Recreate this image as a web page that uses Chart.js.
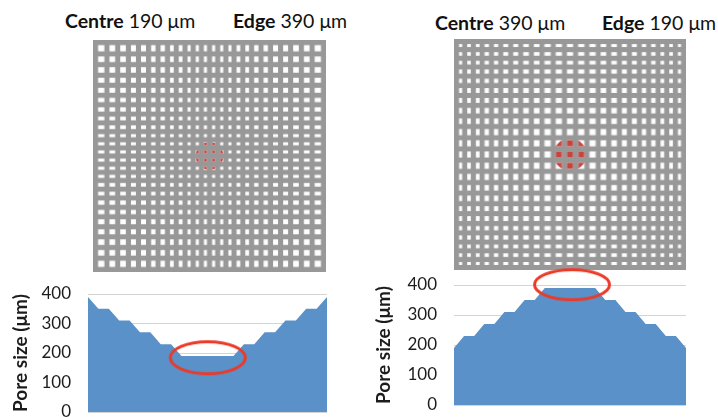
<!DOCTYPE html>
<html>
<head>
<meta charset="utf-8">
<script src="https://cdn.jsdelivr.net/npm/chart.js@4"></script>
<style>
  html, body { margin: 0; padding: 0; background: #fff; }
  body { position: relative; width: 718px; height: 417px; overflow: hidden; font-family: Lato, sans-serif; color: #111; }
  .cap { position: absolute; font-size: 19.5px; white-space: nowrap; line-height: 22px; }
  .cap b { font-weight: 700; }
  canvas { position: absolute; }
  .grid { filter: blur(0.45px); }
</style>
</head>
<body>
<div class="cap" style="left:65px;top:10px"><b>Centre</b> 190 μm</div>
<div class="cap" style="left:233px;top:10px"><b>Edge</b> 390 μm</div>
<div class="cap" style="left:435px;top:12px"><b>Centre</b> 390 μm</div>
<div class="cap" style="left:602px;top:12px"><b>Edge</b> 190 μm</div>

<canvas id="gridLeft" class="grid" style="left:93px;top:40px;width:233px;height:232px"></canvas>
<canvas id="gridRight" class="grid" style="left:453.5px;top:39px;width:232.5px;height:231px"></canvas>
<canvas id="areaLeft" style="left:0;top:255px;width:345px;height:162px"></canvas>
<canvas id="areaRight" style="left:360px;top:255px;width:345px;height:162px"></canvas>

<script>
// pore size (um) along the scaffold, edge to edge
const leftPoreSizes = [390, 350, 350, 310, 310, 270, 270, 230, 230, 190, 190, 190, 190, 190, 190, 230, 230, 270, 270, 310, 310, 350, 350, 390];
const rightPoreSizes = [190, 230, 230, 270, 270, 310, 310, 350, 350, 390, 390, 390, 390, 390, 390, 350, 350, 310, 310, 270, 270, 230, 230, 190];
// the right scaffold has one pore less, so a pore sits on its centre
const rightGridSizes = [190, 230, 230, 270, 270, 310, 310, 350, 350, 390, 390, 390, 390, 390, 350, 350, 310, 310, 270, 270, 230, 230, 190];
const strutSize = 320;
const leftSpotRadius = 870;
const rightSpotRadius = 1030;

const poreSizeTicks = [0, 100, 200, 300, 400];
const leftHighlight = [11.53, 184];
const rightHighlight = [11.7, 401];

const GREY = '#989898', BLUE = '#5b91c9', RED = '#c4443e', RING = '#ea3a28', GRID = '#d4d4d4', TEXT = '#1c1c1c';

Chart.defaults.animation = false;
Chart.defaults.responsive = false;
Chart.defaults.font.family = 'Lato, sans-serif';

function sizeCanvas(id, w, h) {
  const c = document.getElementById(id);
  c.width = w; c.height = h;
  return c;
}

// centre of each pore along one axis, from the sizes and the strut
function poreCentres(sizes) {
  let pos = strutSize;
  return sizes.map(s => { const c = pos + s / 2; pos += s + strutSize; return c; });
}

const poreCache = {};
function poreImage(w, h, color) {
  const key = [w.toFixed(2), h.toFixed(2), color].join();
  if (poreCache[key]) return poreCache[key];
  const c = document.createElement('canvas');
  c.width = Math.ceil(w) + 2; c.height = Math.ceil(h) + 2;
  const g = c.getContext('2d');
  g.fillStyle = color;
  g.fillRect((c.width - w) / 2, (c.height - h) / 2, w, h);
  poreCache[key] = c;
  return c;
}

function drawGrid(id, boxW, boxH, sizes, spotRadius) {
  const centres = poreCentres(sizes);
  const total = sizes.reduce((a, b) => a + b + strutSize, strutSize);
  const points = [];
  centres.forEach((y, r) => centres.forEach((x, c) => points.push({ x, y, w: sizes[c], h: sizes[r] })));

  const style = color => ctx => {
    const kx = ctx.chart.width / total, ky = ctx.chart.height / total;
    return poreImage(ctx.raw.w * kx, ctx.raw.h * ky, color);
  };

  new Chart(sizeCanvas(id, boxW, boxH), {
    type: 'scatter',
    data: {
      datasets: [
        { data: points, order: 2, pointStyle: style('#ffffff'), clip: false },
        { data: points, order: 1, pointStyle: style(RED), clip: false }
      ]
    },
    options: {
      plugins: { legend: { display: false }, tooltip: { enabled: false } },
      layout: { padding: 0, autoPadding: false },
      scales: {
        x: { type: 'linear', min: 0, max: total, display: false },
        y: { type: 'linear', min: 0, max: total, display: false }
      }
    },
    plugins: [{
      id: 'plate',
      beforeDatasetsDraw(chart) {
        const a = chart.chartArea;
        chart.ctx.fillStyle = GREY;
        chart.ctx.fillRect(a.left, a.top, a.right - a.left, a.bottom - a.top);
      },
      // red spot: only the pores inside the circle show the red set
      beforeDatasetDraw(chart, args) {
        if (args.index !== 1) return;
        const g = chart.ctx, sx = chart.scales.x, sy = chart.scales.y;
        g.save();
        g.beginPath();
        g.arc(sx.getPixelForValue(total / 2), sy.getPixelForValue(total / 2),
          spotRadius * chart.width / total, 0, Math.PI * 2);
        g.clip();
      },
      afterDatasetDraw(chart, args) {
        if (args.index === 1) chart.ctx.restore();
      }
    }]
  });
}

function ringImage(w, h) {
  const c = document.createElement('canvas');
  c.width = w + 6; c.height = h + 6;
  const g = c.getContext('2d');
  g.strokeStyle = RING;
  g.lineWidth = 3;
  g.beginPath();
  g.ellipse(c.width / 2, c.height / 2, w / 2 - 1.5, h / 2 - 1.5, 0, 0, Math.PI * 2);
  g.stroke();
  return c;
}

function drawArea(id, sizes, highlight, opts) {
  new Chart(sizeCanvas(id, 345, 162), {
    type: 'line',
    data: {
      datasets: [
        {
          data: sizes.map((v, i) => ({ x: i, y: v })),
          order: 2,
          borderWidth: 0,
          backgroundColor: BLUE,
          fill: 'origin',
          pointRadius: 0,
          tension: 0
        },
        {
          type: 'scatter',
          data: [{ x: highlight[0], y: highlight[1] }],
          order: 1,
          clip: false,
          pointRadius: 20,
          pointStyle: ringImage(opts.ringW, opts.ringH)
        }
      ]
    },
    options: {
      plugins: { legend: { display: false }, tooltip: { enabled: false } },
      layout: { autoPadding: false, padding: { top: opts.top, bottom: opts.bottom, right: 345 - opts.left - opts.plotW, left: 0 } },
      scales: {
        x: { type: 'linear', min: 0, max: sizes.length - 1, display: false },
        y: {
          min: poreSizeTicks[0],
          max: poreSizeTicks[poreSizeTicks.length - 1],
          afterFit: s => { s.width = opts.left; s.paddingTop = 0; s.paddingBottom = 0; },
          afterBuildTicks: s => { s.ticks = poreSizeTicks.map(value => ({ value })); },
          grid: { color: GRID, lineWidth: 1, drawTicks: false },
          border: { display: false },
          ticks: { color: TEXT, font: { size: 17 }, padding: opts.tickPad },
          title: {
            display: true,
            text: 'Pore size (μm)',
            color: TEXT,
            font: { size: 19, weight: '700' },
            padding: { top: opts.titleTop, bottom: 0 }
          }
        }
      }
    }
  });
}

drawGrid('gridLeft', 233, 232, leftPoreSizes, leftSpotRadius);
drawGrid('gridRight', 233, 231, rightGridSizes, rightSpotRadius);

drawArea('areaLeft', leftPoreSizes, leftHighlight, {
  left: 88, plotW: 239, top: 39, bottom: 5, ringW: 78, ringH: 35, tickPad: 17, titleTop: 9
});
drawArea('areaRight', rightPoreSizes, rightHighlight, {
  left: 94, plotW: 232, top: 30, bottom: 12, ringW: 78, ringH: 33, tickPad: 17, titleTop: 12
});
</script>
</body>
</html>
